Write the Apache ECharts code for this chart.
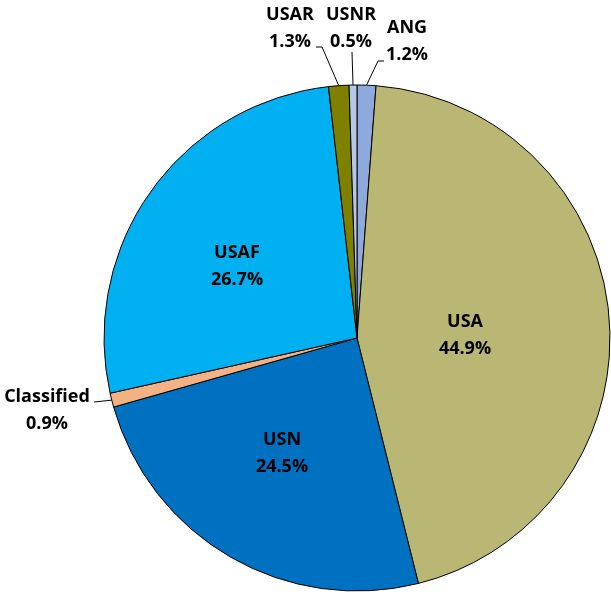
<!DOCTYPE html>
<html>
<head>
<meta charset="utf-8">
<style>
  html, body { margin: 0; padding: 0; background: #fff; }
  #chart { width: 611px; height: 594px; }
</style>
<script src="https://cdn.jsdelivr.net/npm/echarts@6/dist/echarts.min.js"></script>
</head>
<body>
<div id="chart"></div>
<script>
// slices, clockwise from 12 o'clock
const names = ['ANG', 'USA', 'USN', 'Classified', 'USAF', 'USAR', 'USNR']
const shares = [1.2, 44.9, 24.5, 0.9, 26.7, 1.3, 0.5]
const colors = ['#8EA9DB', '#BAB673', '#0070C0', '#F4B183', '#00B0F0', '#7F7F00', '#B4C7E7']

// where each label's centre sits
const labelPos = {
  ANG: [407, 41],
  USA: [465, 335],
  USN: [282, 453],
  Classified: [47, 410],
  USAF: [237, 266],
  USAR: [290, 28],
  USNR: [351, 28]
}
// bends of the leader lines (after the point on the slice edge)
const leaderBends = {
  ANG: [[378, 61], [384, 61]],
  USAR: [[322, 47], [316, 47]],
  USNR: [[352, 52]],
  Classified: [[94, 402]]
}
const outside = Object.keys(leaderBends)

const chart = echarts.init(document.getElementById('chart'))

chart.setOption({
  animation: false,
  series: [{
    type: 'pie',
    center: [357, 338],
    radius: 253,
    startAngle: 90,
    clockwise: true,
    data: names.map((n, i) => ({
      name: n,
      value: shares[i],
      itemStyle: { color: colors[i] },
      label: { position: outside.includes(n) ? 'outside' : 'inside' },
      labelLine: { show: outside.includes(n) }
    })),
    itemStyle: { borderColor: '#000', borderWidth: 1 },
    label: {
      formatter: p => p.name + '\n' + p.value.toFixed(1) + '%',
      fontFamily: 'Open Sans',
      fontWeight: 'bold',
      fontSize: 18,
      lineHeight: 27,
      color: '#000',
      align: 'center',
      overflow: 'none'
    },
    labelLine: {
      lineStyle: { color: '#000', width: 1 },
      length: 20,
      length2: 5
    },
    labelLayout: p => {
      const name = names[p.dataIndex]
      const pos = labelPos[name]
      const out = { x: pos[0], y: pos[1], align: 'center', verticalAlign: 'middle' }
      if (leaderBends[name] && p.labelLinePoints) {
        out.labelLinePoints = [p.labelLinePoints[0]].concat(leaderBends[name])
      }
      return out
    }
  }]
})
</script>
</body>
</html>
